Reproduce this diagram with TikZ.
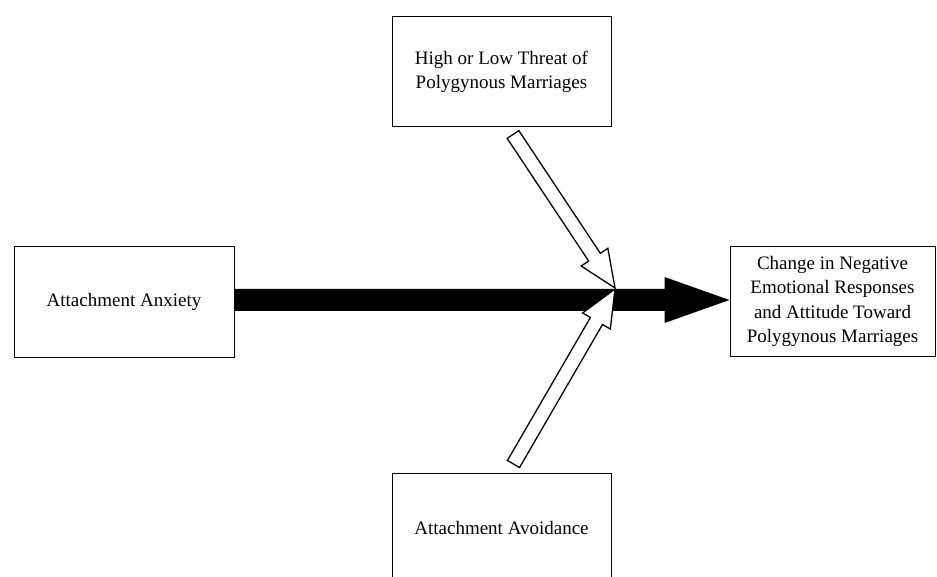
\documentclass[tikz,border=0pt]{standalone}
\usepackage{fontspec}
\setmainfont{Liberation Serif}
\usetikzlibrary{calc}
\tikzset{
  box/.style={draw=black, line width=1pt, fill=white, align=center, inner sep=0pt,
    font=\fontsize{19}{24.5}\selectfont},
  hollow/.style={draw=black, line width=1.3pt, fill=white, line join=miter},
}
\begin{document}
\begin{tikzpicture}[x=1pt,y=1pt]
\useasboundingbox (0,0) rectangle (937,-577);
\begin{scope}
\clip (0,0) rectangle (937,-577);
\node[box, minimum width=219pt, minimum height=110pt] (hl) at (501.5,-72) {High or Low Threat of\\Polygynous Marriages};
\node[box, minimum width=220pt, minimum height=110pt] (aa) at (124,-302) {Attachment Anxiety};
\node[box, minimum width=219pt, minimum height=110pt] (av) at (501.5,-528) {Attachment Avoidance};
\node[box, minimum width=205pt, minimum height=109pt] (cn) at (832.5,-301.5) {Change in Negative\\Emotional Responses\\and Attitude Toward\\Polygynous Marriages};
\end{scope}
% black arrow
\coordinate (bs) at (aa.east |- 0,-300);
\coordinate (bt) at (cn.west |- 0,-300);
\fill[black] ($(bs)+(0,11)$) -- ($(bt)+(-65,11)$) -- ($(bt)+(-65,23)$) -- (bt)
  -- ($(bt)+(-65,-23)$) -- ($(bt)+(-65,-11)$) -- ($(bs)+(0,-11)$) -- cycle;
% hollow arrows
\coordinate (t1) at (513,-134.5);
\coordinate (p1) at (615,-288);
\coordinate (t2) at (513.5,-464);
\coordinate (p2) at (615,-289);
\foreach \T/\P in {t1/p1, t2/p2}{
  \coordinate (B) at ($(\P)!37pt!(\T)$);
  \draw[hollow] ($(\T)!7pt!90:(\P)$) -- ($(B)!7pt!90:(\P)$) -- ($(B)!16pt!90:(\P)$) -- (\P)
    -- ($(B)!16pt!-90:(\P)$) -- ($(B)!7pt!-90:(\P)$) -- ($(\T)!7pt!-90:(\P)$) -- cycle;
}
\end{tikzpicture}
\end{document}
